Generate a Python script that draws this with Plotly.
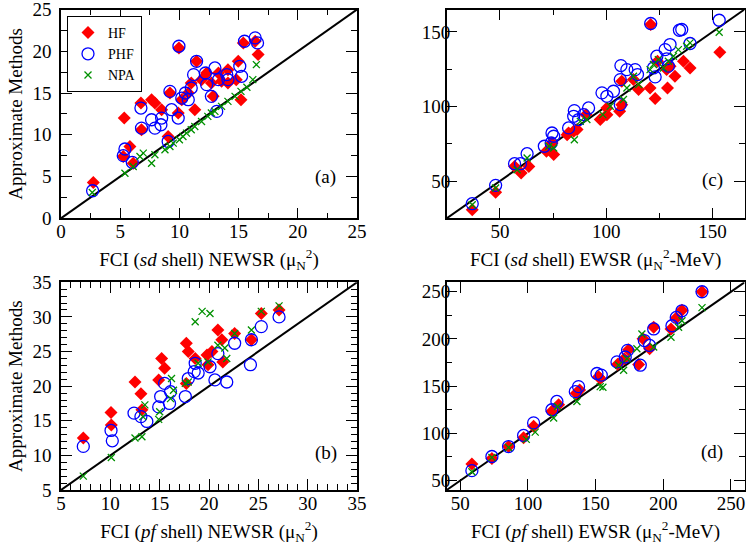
import plotly.graph_objects as go

# ---------------- data ----------------
# Panel (a): sd shell NEWSR
a_hf_x = [2.73, 5.34, 5.26, 5.82, 6.1, 6.75, 7.65, 7.93, 6.8, 8.5, 9.2, 9.05, 9.96, 9.9, 10.2, 10.75, 11.0, 11.45,
          11.3, 11.87, 12.3, 12.7, 12.85, 13.3, 13.56, 14.1, 14.1, 14.8, 14.97, 15.2, 15.4, 16.65, 16.4]
a_hf_y = [4.28, 12.0, 7.4, 8.6, 6.6, 13.8, 14.2, 13.8, 10.6, 13.0, 15.0, 9.8, 20.4, 12.6, 14.2, 15.0, 16.2, 18.8,
          13.0, 16.6, 17.4, 16.2, 14.6, 17.4, 16.4, 17.8, 16.2, 16.6, 18.8, 14.2, 21.0, 19.6, 21.2]
a_phf_x = [2.67, 5.26, 5.4, 6.02, 6.75, 6.8, 7.65, 7.93, 8.44, 8.5, 9.2, 9.34, 9.05, 9.9, 9.96, 10.2, 10.5, 10.75,
           11.0, 11.2, 11.45, 12.2, 12.3, 12.7, 13.0, 13.3, 13.15, 14.0, 14.1, 15.1, 15.25, 15.5, 16.4, 16.6]
a_phf_y = [3.3, 7.5, 8.3, 6.7, 13.2, 10.8, 11.8, 10.8, 11.2, 12.0, 15.2, 13.0, 9.2, 12.0, 20.6, 14.4, 15.0, 14.2,
           15.6, 17.2, 18.8, 17.4, 16.0, 14.6, 18.0, 16.6, 12.8, 17.2, 16.6, 18.2, 17.0, 21.2, 21.6, 21.0]
a_npa_x = [2.64, 5.4, 6.1, 6.67, 6.95, 7.65, 7.93, 8.78, 9.2, 9.48, 10.0, 10.3, 10.6, 11.0, 11.3, 11.87, 12.4, 12.7,
           13.0, 13.56, 14.1, 14.7, 15.2, 15.7, 16.2, 16.5]
a_npa_y = [3.08, 5.4, 6.2, 7.4, 7.8, 6.6, 7.6, 8.2, 8.6, 9.0, 9.4, 9.8, 10.2, 10.6, 11.0, 11.6, 12.2, 12.6,
           12.8, 13.4, 14.0, 14.6, 15.2, 15.7, 16.6, 18.4]

# Panel (c): sd shell EWSR
c_hf_x = [37.0, 48.0, 56.9, 60.0, 63.6, 71.9, 75.3, 74.5, 82.3, 84.7, 86.3, 90.5, 81.6, 97.2, 100.3, 106.3, 107.3,
          107.3, 100.3, 112.8, 115.2, 120.9, 120.6, 123.0, 124.1, 128.4, 128.8, 132.3, 136.3, 139.4, 130.0, 153.4]
c_hf_y = [30.8, 42.4, 59.8, 55.4, 59.8, 69.9, 67.7, 75.5, 82.2, 83.3, 84.5, 94.5, 81.1, 91.2, 94.5, 96.8, 116.9,
          101.2, 99.0, 118.0, 111.3, 154.9, 112.4, 105.3, 130.3, 124.7, 112.4, 120.2, 130.3, 125.8, 127.0, 136.4]
c_phf_x = [37.0, 48.0, 56.9, 59.7, 62.8, 70.9, 74.5, 75.3, 74.1, 82.3, 84.7, 85.0, 89.4, 91.7, 87.0, 98.0, 100.3,
           103.4, 106.9, 109.7, 106.6, 106.6, 113.6, 114.7, 120.9, 123.0, 123.8, 122.2, 127.7, 130.0, 129.2, 128.4,
           134.4, 135.5, 139.4, 153.1]
c_phf_y = [34.8, 47.1, 61.6, 61.6, 68.3, 73.3, 82.2, 80.0, 75.5, 85.6, 93.4, 97.2, 94.5, 99.0, 91.2, 109.1, 106.8,
           110.2, 127.4, 124.7, 118.0, 101.2, 124.7, 121.4, 155.6, 119.8, 133.7, 125.8, 138.1, 141.5, 127.0, 131.9,
           151.1, 151.6, 142.2, 157.8]
c_npa_x = [37.0, 48.0, 58.1, 62.8, 73.0, 75.3, 85.0, 87.8, 90.9, 98.4, 101.9, 108.1, 109.7, 112.8, 115.2, 120.6,
           122.2, 124.5, 126.9, 129.2, 131.6, 133.9, 137.8, 139.4, 153.1]
c_npa_y = [34.1, 45.3, 57.6, 65.4, 73.3, 72.1, 77.7, 90.0, 91.2, 94.5, 100.1, 104.6, 112.4, 120.2, 114.7, 124.7,
           128.1, 131.4, 125.8, 130.3, 133.7, 138.1, 140.4, 142.6, 149.8]

# Panel (b): pf shell NEWSR
b_hf_x = [7.26, 10.07, 10.1, 12.5, 13.1, 13.2, 14.9, 15.2, 15.5, 17.7, 17.9, 18.6, 17.7, 19.8, 20.3, 20.9, 21.3,
          21.4, 22.6, 24.3, 25.3, 27.1, 19.9]
b_hf_y = [12.5, 16.2, 14.4, 20.6, 18.9, 16.6, 20.9, 24.0, 22.6, 26.2, 25.0, 24.0, 20.4, 24.5, 25.0, 28.1, 26.7,
          23.5, 27.6, 26.7, 30.5, 31.0, 23.1]
b_phf_x = [7.26, 10.07, 10.2, 12.4, 13.1, 13.7, 14.9, 15.1, 15.5, 16.1, 16.0, 17.6, 17.9, 18.6, 18.9, 20.1, 20.9,
           20.6, 21.8, 22.6, 24.3, 24.2, 25.3, 27.1, 18.5]
b_phf_y = [11.3, 13.6, 12.1, 16.1, 15.6, 14.9, 17.0, 18.5, 20.4, 19.2, 17.5, 18.5, 21.1, 23.3, 21.9, 22.8, 24.7,
           20.9, 20.6, 26.2, 26.7, 23.1, 28.6, 30.0, 22.1]
b_npa_x = [7.26, 10.1, 12.5, 13.2, 13.5, 13.3, 14.9, 15.0, 16.1, 16.2, 16.4, 17.6, 17.9, 18.6, 19.3, 20.1, 18.9,
           19.9, 20.9, 21.8, 21.6, 22.6, 24.3, 25.3, 27.1]
b_npa_y = [7.0, 9.7, 12.5, 12.7, 17.3, 15.6, 15.2, 16.3, 18.2, 21.1, 19.4, 20.4, 20.6, 29.3, 30.8, 30.5, 23.3,
           23.5, 25.9, 24.0, 25.5, 27.6, 28.1, 30.8, 31.6]

# Panel (d): pf shell EWSR
d_hf_x = [58.6, 73.4, 85.7, 96.8, 104.2, 117.7, 122.7, 135.7, 138.2, 152.2, 153.4, 166.3, 171.2, 174.4, 181.8,
          185.0, 189.9, 192.9, 205.7, 209.6, 213.8, 228.6]
d_hf_y = [67.5, 73.4, 86.0, 95.4, 107.6, 123.3, 130.3, 142.5, 146.0, 160.0, 158.2, 173.2, 179.1, 188.6, 172.9,
          200.1, 189.6, 212.3, 210.6, 222.1, 230.5, 250.0]
d_phf_x = [58.6, 73.4, 85.7, 96.8, 104.2, 117.7, 121.4, 135.0, 137.4, 151.0, 154.2, 165.8, 171.9, 173.6, 183.0,
           186.0, 189.9, 192.9, 206.4, 209.6, 213.8, 228.6]
d_phf_y = [60.5, 75.5, 86.0, 97.8, 111.1, 125.0, 133.8, 144.2, 149.5, 163.4, 161.7, 175.7, 180.9, 187.9, 172.2,
           198.3, 193.1, 210.6, 214.0, 222.8, 229.8, 250.0]
d_npa_x = [58.6, 73.4, 85.7, 98.8, 105.4, 119.0, 121.9, 136.2, 153.4, 155.4, 167.0, 170.7, 173.2, 180.5, 184.2,
           192.9, 205.7, 211.3, 213.8, 228.6]
d_npa_y = [59.4, 74.4, 85.0, 93.6, 101.3, 116.3, 128.5, 133.8, 149.5, 148.8, 172.2, 166.9, 179.1, 189.6, 205.3,
           191.4, 201.8, 212.3, 219.3, 233.2]

# axis ranges
range_a = [0, 25]
range_c = [25, 165]
range_b = [5, 35]
range_d = [40, 260]

# ---------------- styling ----------------
FONT = "Liberation Serif"
RED = "#ff0000"
BLUE = "#0000ff"
GREEN = "#009000"
W, H = 746, 551
FS = 19


def px_x(p):
    return p / W


def px_y(p):
    return 1 - p / H


fig = go.Figure()

panels = [
    ("x", "y", (a_hf_x, a_hf_y, a_phf_x, a_phf_y, a_npa_x, a_npa_y), range_a, True),
    ("x2", "y2", (c_hf_x, c_hf_y, c_phf_x, c_phf_y, c_npa_x, c_npa_y), range_c, False),
    ("x3", "y3", (b_hf_x, b_hf_y, b_phf_x, b_phf_y, b_npa_x, b_npa_y), range_b, False),
    ("x4", "y4", (d_hf_x, d_hf_y, d_phf_x, d_phf_y, d_npa_x, d_npa_y), range_d, False),
]

for xa, ya, data, rng, leg in panels:
    hx, hy, px_, py_, nx, ny = data
    fig.add_trace(go.Scatter(x=rng, y=rng, mode="lines", line=dict(color="black", width=2),
                             showlegend=False, xaxis=xa, yaxis=ya, hoverinfo="skip"))
    fig.add_trace(go.Scatter(x=hx, y=hy, mode="markers", name="HF", showlegend=leg,
                             marker=dict(symbol="diamond", size=10, color=RED, line=dict(width=0)),
                             xaxis=xa, yaxis=ya))
    fig.add_trace(go.Scatter(x=px_, y=py_, mode="markers", name="PHF", showlegend=leg,
                             marker=dict(symbol="circle-open", size=12, color=BLUE,
                                         line=dict(width=1.3, color=BLUE)),
                             xaxis=xa, yaxis=ya))
    fig.add_trace(go.Scatter(x=nx, y=ny, mode="markers", name="NPA", showlegend=leg,
                             marker=dict(symbol="x-thin-open", size=7, color=GREEN,
                                         line=dict(width=1.3, color=GREEN)),
                             xaxis=xa, yaxis=ya))


def axis(domain, rng, anchor, tick0, dtick, mtick0, minor, standoff=6, title=None, tstand=None):
    d = dict(domain=domain, range=rng, anchor=anchor, tick0=tick0, dtick=dtick, automargin=False,
             showline=True, linecolor="black", linewidth=1.5, mirror="allticks",
             ticks="inside", ticklen=11, tickwidth=1.3, tickcolor="black",
             showgrid=False, zeroline=False, fixedrange=True,
             tickfont=dict(family=FONT, size=FS, color="black"),
             ticklabelstandoff=standoff, ticklabeloverflow="allow")
    if minor:
        d["minor"] = dict(tick0=mtick0, dtick=minor, ticks="inside", ticklen=6, tickwidth=1.3,
                          tickcolor="black", showgrid=False)
    if title:
        d["title"] = dict(text=title, font=dict(family=FONT, size=FS, color="black"), standoff=tstand)
    return d


xa_dom_l = [px_x(61), px_x(357)]
xa_dom_r = [px_x(446.7), px_x(744.5)]
ya_dom_t = [px_y(218.3), px_y(9.5)]
ya_dom_b = [px_y(490), px_y(282.3)]

XS = -5      # x tick label standoff
XT = 12      # x title standoff

fig.update_layout(
    width=W, height=H, margin=dict(l=0, r=0, t=0, b=0), autosize=False,
    paper_bgcolor="white", plot_bgcolor="white",
    font=dict(family=FONT, size=FS, color="black"),
    showlegend=True,
    legend=dict(x=px_x(67), y=px_y(16), xanchor="left", yanchor="top",
                bordercolor="black", borderwidth=1, bgcolor="white",
                font=dict(family=FONT, size=14, color="black"), tracegroupgap=0,
                itemwidth=30),
    xaxis=axis(xa_dom_l, range_a, "y", 0, 5, 0, 2.5, XS,
               "FCI (<i>sd</i> shell) NEWSR (μ<sub>N</sub><sup>2</sup>)", XT),
    yaxis=axis(ya_dom_t, range_a, "x", 0, 5, 0, 2.5, 4, "Approximate Methods", 5),
    xaxis2=axis(xa_dom_r, range_c, "y2", 50, 50, 25, 25, XS,
                "FCI (<i>sd</i> shell) EWSR (μ<sub>N</sub><sup>2</sup>-MeV)", XT),
    yaxis2=axis(ya_dom_t, range_c, "x2", 50, 50, 25, 25, -9),
    xaxis3=axis(xa_dom_l, range_b, "y3", 5, 5, 5, 1, XS,
                "FCI (<i>pf</i> shell) NEWSR (μ<sub>N</sub><sup>2</sup>)", XT),
    yaxis3=axis(ya_dom_b, range_b, "x3", 5, 5, 5, 1, 4, "Approximate Methods", 5),
    xaxis4=axis(xa_dom_r, range_d, "y4", 50, 50, 25, None, XS,
                "FCI (<i>pf</i> shell) EWSR (μ<sub>N</sub><sup>2</sup>-MeV)", XT),
    yaxis4=axis(ya_dom_b, range_d, "x4", 50, 50, 25, 25, -9),
)

for txt, x, y in [("(a)", 325, 177), ("(c)", 712, 180), ("(b)", 326, 453), ("(d)", 712, 452)]:
    fig.add_annotation(text=txt, x=px_x(x), y=px_y(y), xref="paper", yref="paper",
                       showarrow=False, xanchor="center", yanchor="middle",
                       font=dict(family=FONT, size=FS, color="black"))

# remove the default page margin so the figure fills the window exactly
fig.write_html("out.html", config={"displayModeBar": False},
               post_script="document.body.style.margin='0';document.body.style.overflow='hidden';")
